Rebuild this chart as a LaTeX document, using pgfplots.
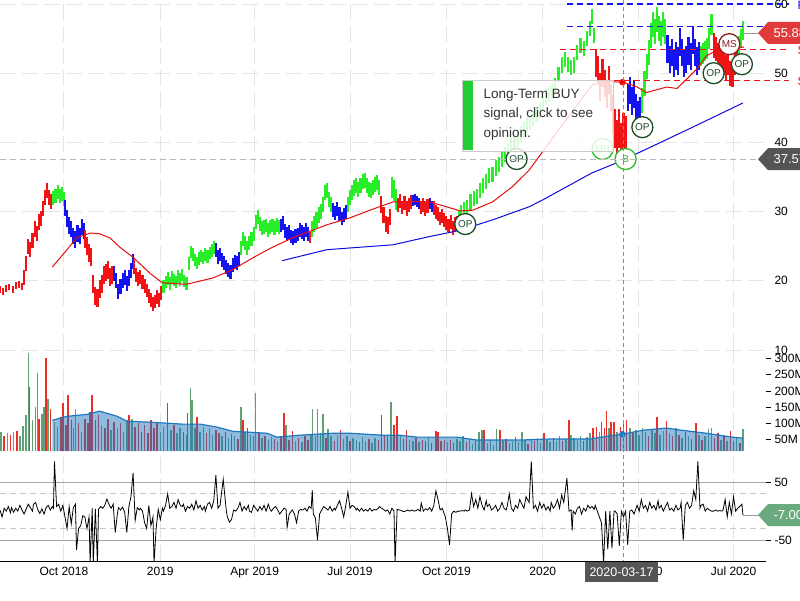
\documentclass[border=0pt]{standalone}
\usepackage{fontspec}
\setmainfont{Liberation Sans}
\usepackage{pgfplots}
\pgfplotsset{compat=1.18}

\definecolor{pgreen}{RGB}{40,238,40}
\definecolor{pblue}{RGB}{20,20,240}
\definecolor{pred}{RGB}{240,20,20}
\definecolor{mared}{RGB}{232,12,12}
\definecolor{mablue}{RGB}{12,12,222}
\definecolor{gridc}{RGB}{228,228,228}
\definecolor{vgreen}{RGB}{95,160,118}
\definecolor{vred}{RGB}{236,45,40}
\definecolor{vma}{RGB}{31,119,190}
\definecolor{opgreen}{RGB}{28,78,38}
\definecolor{msred}{RGB}{140,28,28}
\definecolor{bgreen}{RGB}{45,190,45}
\definecolor{tagred}{RGB}{224,58,58}
\definecolor{taggray}{RGB}{85,85,85}
\definecolor{taggreen}{RGB}{106,170,126}
\definecolor{tipgreen}{RGB}{34,204,51}

\pgfplotsset{
  panel/.style={
    scale only axis, anchor=south west, at={(0pt,0pt)}, width=766pt,
    xmin=-61, xmax=670,
    xtick={0,92,182,273,365,457,548,639},
    xticklabels={},
    xmajorgrids,
    axis line style={draw=none},
    major grid style={draw=gridc, line width=0.9pt, dash pattern=on 16pt off 6pt},
    yticklabel pos=right, ytick pos=right,
    tick align=outside, major tick length=5pt,
    tick style={draw=black, line width=0.8pt},
    xtick style={draw=none},
    /pgf/number format/assume math mode=true,
    ticklabel style={font=\fontsize{12}{14}\selectfont, text=black},
    yticklabel style={anchor=west},
  },
  pb/.style 2 args={only marks, mark=*, mark size=0pt,
    mark options={draw=none, fill=none}, forget plot,
    error bars/.cd, y dir=both, y fixed=#2, error mark=none,
    error bar style={draw=#1, line width=2.1pt}},
  vb/.style={ycomb, draw=#1, line width=1.5pt, mark=none},
  op/.style={only marks, mark=*, mark size=10.5pt,
    mark options={fill=white, draw=#1, line width=1.3pt}},
}

\begin{document}
\begin{tikzpicture}[x=1pt,y=1pt]
\useasboundingbox (0,0) rectangle (800,600);
\clip (0,0) rectangle (800,600);

% ---------------- price panel
\begin{scope}[yshift=250pt]
\begin{axis}[panel, height=350pt,
  ymin=10, ymax=60.58, ytick={10,20,...,60}, ymajorgrids,
  ytick style={draw=none}, clip=false, clip marker paths=true]

\addplot[pb={pred}{0.5}] coordinates {(-61,18.7)(-58,18.5)(-55,18.9)(-52,19.1)(-49,18.8)(-46,19.3)(-43,19.5)(-40,19.2)};
\addplot[pb={pred}{1.1}] coordinates {(-38,20.5)(-36,22.5)(-34,25.0)(-32,24.5)(-30,25.8)(-28,27.5)(-26,26.8)(-24,28.5)(-22,29.0)(-20,30.5)(-18,32.0)(-16,33.0)(-14,32.0)(-12,31.5)};
\addplot[pb={pgreen}{1.0}] coordinates {(-10,32.0)(-8,32.3)(-6,32.8)(-4,32.2)(-2,32.6)(0,31.8)};
\addplot[pb={pblue}{1.2}] coordinates {(1,30.5)(3,29.0)(5,28.0)(7,27.5)(9,26.5)(11,26.0)(13,26.8)(15,26.5)(17,27.8)(19,27.2)};
\addplot[pb={pred}{1.3}] coordinates {(20,26.0)(22,25.0)(24,24.0)(26,23.5)(28,19.5)(30,17.8)(32,17.5)(34,18.8)(36,19.6)(38,20.8)(40,21.2)(42,21.5)(44,20.5)(46,20.8)};
\addplot[pb={pblue}{1.1}] coordinates {(48,21.0)(50,20.0)(52,18.5)(54,19.2)(56,20.0)(58,20.5)(60,19.6)(62,20.4)(64,21.5)(66,22.8)};
\addplot[pb={pred}{1.0}] coordinates {(67,22.0)(69,20.8)(71,20.2)(73,20.5)(75,19.8)(77,19.2)(79,18.6)(81,17.8)(83,17.2)(85,16.6)(87,17.0)(89,17.6)(91,17.2)(93,18.2)};
\addplot[pb={pgreen}{0.9}] coordinates {(95,19.2)(97,19.8)(99,20.3)(101,19.6)(103,20.5)(105,20.1)(107,19.8)(109,20.6)(111,20.2)(113,20.8)(115,20.0)(117,19.6)(119,22.5)(121,24.2)(123,23.8)(125,23.0)(127,22.6)(129,23.2)(131,23.6)(133,23.3)(135,23.8)(137,23.5)(139,24.0)(141,24.4)(143,24.8)};
\addplot[pb={pblue}{1.0}] coordinates {(145,24.5)(147,23.5)(149,23.8)(151,23.0)(153,22.6)(155,22.0)(157,21.6)(159,21.3)(161,22.3)(163,22.8)(165,22.6)(167,23.2)};
\addplot[pb={pgreen}{1.0}] coordinates {(169,24.8)(171,26.0)(173,25.5)(175,24.8)(177,25.5)(179,26.0)(181,26.8)(183,28.5)(185,29.2)(187,28.2)(189,27.6)(191,27.8)(193,28.0)(195,27.4)(197,27.8)(199,28.0)(201,27.6)(203,28.1)(205,27.8)};
\addplot[pb={pblue}{1.0}] coordinates {(207,28.0)(209,28.3)(211,27.2)(213,26.8)(215,27.0)(217,26.4)(219,26.2)(221,26.5)(223,26.7)(225,27.3)(227,27.0)(229,26.8)(231,27.4)(233,26.8)};
\addplot[pb={pred}{0.8}] coordinates {(235,26.3)};
\addplot[pb={pgreen}{1.1}] coordinates {(237,27.5)(239,28.2)(241,28.8)(243,29.5)(245,30.0)(247,31.0)(249,32.8)(251,33.0)(253,31.8)(255,31.0)};
\addplot[pb={pblue}{1.0}] coordinates {(257,30.2)(259,29.8)(261,30.4)(263,29.6)(265,29.0)(267,29.5)(269,30.0)};
\addplot[pb={pgreen}{1.1}] coordinates {(271,31.0)(273,32.0)(275,32.8)(277,33.4)(279,33.8)(281,33.2)(283,33.8)(285,34.3)(287,34.5)(289,33.8)(291,33.2)(293,33.0)(295,33.5)(297,33.9)(299,34.2)(301,33.5)};
\addplot[pb={pred}{1.2}] coordinates {(303,31.0)(305,29.5)(307,28.2)(309,28.0)(311,29.2)};
\addplot[pb={pgreen}{1.5}] coordinates {(313,33.5)(315,33.0)(317,31.8)};
\addplot[pb={pred}{1.0}] coordinates {(319,31.0)(321,31.5)(323,30.6)(325,31.2)(327,30.4)(329,31.0)(331,31.4)};
\addplot[pb={pblue}{0.8}] coordinates {(333,31.6)(335,31.8)(337,31.5)(339,31.2)};
\addplot[pb={pred}{1.0}] coordinates {(341,30.6)(343,31.0)(345,30.4)(347,30.8)};
\addplot[pb={pblue}{0.8}] coordinates {(349,31.2)(351,30.8)};
\addplot[pb={pred}{1.0}] coordinates {(353,30.5)(355,30.0)(357,29.6)(359,29.0)(361,29.4)(363,28.8)(365,28.3)(367,28.0)(369,28.5)(371,27.6)(373,28.2)(375,28.4)};
\addplot[pb={pgreen}{1.1}] coordinates {(377,29.0)(379,29.8)(382,30.3)(385,30.6)(388,31.4)(391,31.9)(394,32.2)(397,33.0)(400,33.8)(403,34.3)(406,35.2)(409,35.4)(412,36.3)(415,36.8)(418,37.5)(421,38.2)(424,38.6)(427,39.6)(430,40.0)(433,40.4)(436,41.2)(439,41.8)(442,42.6)(445,42.9)(448,43.4)(451,44.0)(454,44.6)(457,45.8)(460,46.8)(463,47.0)(466,47.3)(469,48.2)(472,49.8)(475,51.2)(478,52.0)(481,51.3)(484,50.8)(487,51.2)(490,53.0)(493,54.0)(496,53.6)(499,55.0)(502,56.5)(504,58.2)(506,55.5)};
\addplot[pb={pred}{2.0}] coordinates {(508,51.5)(510,50.5)(512,48.0)(514,50.0)(516,48.5)(518,47.0)(520,49.0)(522,46.5)};
\addplot[pb={pred}{2.8}] coordinates {(524,44.0)(526,42.0)(528,40.5)(530,42.0)(532,40.0)(534,41.5)(536,41.0)};
\addplot[pb={pblue}{2.0}] coordinates {(538,46.5)(540,47.5)(542,46.0)(544,47.0)(546,45.0)(548,44.0)(550,44.5)};
\addplot[pb={pgreen}{1.8}] coordinates {(552,46.0)(554,48.5)(556,51.0)(558,53.0)(560,55.5)(562,57.0)(564,56.0)(566,57.8)(568,56.5)(570,55.8)(572,57.0)(574,56.0)};
\addplot[pb={pblue}{2.0}] coordinates {(576,53.5)(578,52.0)(580,53.0)(582,51.5)(584,52.5)(586,51.8)(588,54.5)(590,53.0)(592,51.5)(594,52.0)(596,53.2)(598,52.4)(600,54.8)(602,53.0)(604,51.8)(606,52.5)};
\addplot[pb={pgreen}{1.5}] coordinates {(608,52.5)(610,52.8)(612,53.2)(614,53.6)(616,55.0)(618,57.0)};
\addplot[pb={pred}{1.8}] coordinates {(620,54.0)(622,53.5)(624,52.5)(626,52.0)(628,51.8)(630,51.5)(632,50.8)(634,51.5)(636,50.0)(638,49.8)(640,51.5)(642,52.0)};
\addplot[pb={pgreen}{1.4}] coordinates {(644,54.0)(646,55.0)(648,56.2)};

% moving averages
\addplot[mared, line width=1pt, mark=none] coordinates {(-11,22.0)(3,24.5)(12,26.2)(25,26.9)(34,26.8)(44,26.2)(53,24.9)(66,23.4)(82,21.1)(94,19.7)(117,19.5)(142,20.4)(161,21.6)(180,23.3)(197,24.7)(218,26.2)(251,28.1)(273,29.1)(292,30.2)(314,31.4)(330,31.5)(349,31.4)(365,30.7)(378,30.1)(390,30.2)(409,31.4)(428,33.6)(444,36.0)(473,42.0)(504,48.3)(520,48.8)(533,48.7)(546,48.1)(556,47.2)(575,48.0)(585,47.8)(594,49.1)(604,50.6)(613,52.5)(623,53.3)(642,53.6)(649,53.8)};
\addplot[mablue, line width=1pt, mark=none] coordinates {(208,22.9)(251,24.5)(314,25.2)(346,26.3)(378,27.3)(409,28.8)(444,30.7)(457,31.7)(504,35.6)(530,37.2)(568,39.9)(600,42.2)(648,45.7)};
\addplot[only marks, mark=*, mark size=3pt, color=mared] coordinates {(533,48.7)};

% levels
\draw[pblue, line width=1.2pt, dash pattern=on 6pt off 4pt] (axis cs:480,60) -- (axis cs:692,60);
\draw[pblue, line width=1.2pt, dash pattern=on 6pt off 4pt] (axis cs:480,56.7) -- (axis cs:692,56.7);
\draw[pred, line width=1.2pt, dash pattern=on 6pt off 4pt] (axis cs:473,53.4) -- (axis cs:692,53.4);
\draw[pred, line width=1.2pt, dash pattern=on 6pt off 4pt] (axis cs:506,48.9) -- (axis cs:692,48.9);

% signal circles
\addplot[op=opgreen] coordinates {(383,28.2)(432,37.6)(552,42.2)(620,50.0)(647,51.3)};
\addplot[op=bgreen] coordinates {(514,39.05)(536,37.6)};
\addplot[op=msred] coordinates {(635,54.2)};
\begin{scope}[font=\fontsize{10}{10}\selectfont]
\node[text=opgreen] at (axis cs:383,28.2) {OP};
\node[text=opgreen] at (axis cs:432,37.6) {OP};
\node[text=opgreen] at (axis cs:552,42.2) {OP};
\node[text=opgreen] at (axis cs:620,50.0) {OP};
\node[text=opgreen] at (axis cs:647,51.3) {OP};
\node[text=bgreen] at (axis cs:514,39.05) {MB};
\node[text=bgreen] at (axis cs:536,37.6) {B};
\node[text=msred] at (axis cs:635,54.2) {MS};
\end{scope}
\end{axis}
\end{scope}

% ---------------- volume panel
\begin{scope}[yshift=149pt]
\begin{axis}[panel, height=101pt,
  ymin=15.4, ymax=326, ytick={50,100,...,300},
  yticklabels={50M,100M,150M,200M,250M,300M}]
\addplot[vb=vgreen] coordinates {(-60,73)(-54,70)(-48,75)(-42,63)(-39,93)(-36,125)(-34,317)(-30,110)(-27,152)(-25,254)(-21,129)(-19,152)(-15,175)(-9,105)(-6,90)(9,85)(11,144)(17,75)(36,95)(45,80)(51,85)(57,75)(60,110)(65,115)(92,75)(95,90)(102,80)(108,70)(111,85)(117,65)(121,208)(122,171)(125,85)(130,75)(133,90)(139,85)(142,65)(151,60)(157,55)(163,60)(169,150)(173,75)(178,65)(181,60)(183,193)(189,55)(195,50)(198,57)(204,45)(212,94)(221,45)(227,43)(236,65)(237,144)(240,60)(242,144)(245,70)(247,129)(252,83)(255,60)(261,65)(267,53)(270,60)(276,55)(279,50)(285,57)(288,47)(294,40)(297,55)(312,165)(321,60)(330,50)(333,45)(339,43)(348,57)(366,43)(375,53)(378,45)(381,60)(387,50)(390,37)(396,73)(399,79)(404,40)(407,50)(410,35)(413,82)(419,45)(425,40)(428,47)(434,43)(437,75)(440,50)(446,53)(452,55)(455,40)(461,50)(464,43)(470,45)(473,60)(479,53)(484,65)(487,55)(490,50)(493,63)(499,57)(502,70)(511,75)(520,86)(528,75)(540,85)(546,80)(549,65)(552,87)(555,75)(561,83)(564,70)(569,65)(572,77)(578,70)(584,85)(590,55)(596,60)(606,65)(612,60)(615,83)(618,87)(627,50)(633,45)(642,55)(648,83)};
\addplot[vb=vred] coordinates {(-57,60)(-51,65)(-45,77)(-33,211)(-24,115)(-17,300)(-13,145)(-3,120)(-1,162)(2,95)(4,187)(7,110)(14,100)(20,115)(23,103)(25,135)(27,187)(30,110)(33,125)(39,85)(42,115)(48,105)(54,100)(62,125)(68,90)(71,100)(74,75)(77,95)(80,70)(83,110)(86,85)(89,100)(99,162)(105,95)(114,75)(118,132)(127,119)(136,70)(145,80)(148,70)(154,75)(160,67)(166,53)(171,110)(175,86)(186,70)(192,63)(201,53)(207,60)(210,132)(215,50)(218,76)(224,55)(230,60)(233,50)(250,55)(258,45)(264,79)(273,45)(282,43)(291,53)(300,50)(303,125)(306,65)(309,60)(315,95)(318,122)(324,53)(327,79)(336,55)(342,50)(345,45)(351,40)(355,76)(357,73)(360,45)(363,50)(369,48)(372,40)(384,43)(393,45)(401,79)(416,79)(422,53)(431,57)(443,37)(449,45)(458,70)(467,55)(476,47)(482,110)(496,45)(505,86)(508,89)(513,104)(516,85)(518,138)(522,104)(525,104)(531,90)(534,104)(537,110)(543,70)(558,60)(566,119)(575,107)(581,60)(587,65)(593,73)(599,53)(603,101)(609,50)(621,55)(624,70)(630,63)(636,77)(639,45)(645,40)};
\addplot[draw=none, fill=vma, fill opacity=0.5, mark=none] coordinates {(-11,110)(3,122)(22,128)(34,138)(51,122)(60,107)(82,104)(98,101)(113,98)(130,98)(146,89)(161,76)(194,70)(203,58)(225,64)(257,70)(273,70)(304,64)(320,64)(337,58)(375,58)(394,49)(435,49)(461,52)(502,52)(518,61)(533,67)(552,79)(575,86)(590,79)(613,70)(638,58)(648,55)} \closedcycle;
\addplot[vma, line width=1.2pt, mark=none] coordinates {(-11,110)(3,122)(22,128)(34,138)(51,122)(60,107)(82,104)(98,101)(113,98)(130,98)(146,89)(161,76)(194,70)(203,58)(225,64)(257,70)(273,70)(304,64)(320,64)(337,58)(375,58)(394,49)(435,49)(461,52)(502,52)(518,61)(533,67)(552,79)(575,86)(590,79)(613,70)(638,58)(648,55)};
\addplot[only marks, mark=*, mark size=3pt, color=vma] coordinates {(533,67)};
\end{axis}
\end{scope}

% ---------------- oscillator panel
\begin{scope}[yshift=39pt]
\begin{axis}[panel, height=109pt,
  ymin=-86, ymax=102, ytick={-50,50},
  xticklabels={Oct 2018,2019,Apr 2019,Jul 2019,Oct 2019,2020,Apr 2020,Jul 2020},
  xticklabel style={yshift=2.5pt}]
\draw[black!35, line width=1.2pt] (axis cs:-61,50) -- (axis cs:670,50);
\draw[black!35, line width=1.2pt] (axis cs:-61,-50) -- (axis cs:670,-50);
\draw[black!22, line width=1pt, dash pattern=on 6pt off 4pt] (axis cs:-61,30) -- (axis cs:670,30);
\draw[black!22, line width=1pt, dash pattern=on 6pt off 4pt] (axis cs:-61,-30) -- (axis cs:670,-30);
\addplot[black, line width=0.8pt, mark=none] coordinates {
(-61,2)(-59,-10)(-57,5)(-55,0)(-53,8)(-51,-3)(-50,6)(-48,-2)(-46,5)(-44,0)(-42,10)(-40,2)(-38,-5)(-36,4)(-34,12)(-32,6)(-30,0)(-29,12)(-27,15)(-25,3)(-23,-4)(-21,4)(-19,-5)(-17,6)(-15,10)(-13,2)(-11,8)(-10,5)(-9,86)(-7,8)(-5,12)(-3,0)(-1,10)(1,-10)(3,-30)(5,8)(7,-22)(9,6)(11,12)(12,-67)(14,-30)(16,-25)(18,-8)(20,-10)(22,-30)(24,-10)(25,-90)(27,5)(28,-90)(30,4)(32,-90)(33,3)(35,8)(37,5)(39,10)(41,21)(43,12)(45,5)(47,12)(49,-37)(51,-5)(52,6)(54,2)(56,7)(58,-2)(60,-37)(62,8)(64,25)(66,66)(68,-16)(70,6)(72,2)(73,5)(75,0)(77,-20)(79,-30)(81,10)(83,-25)(85,-10)(86,-90)(88,-30)(90,3)(92,-15)(94,5)(95,0)(97,10)(99,30)(101,5)(103,8)(105,15)(107,5)(109,20)(111,10)(113,8)(114,12)(116,0)(118,8)(120,5)(122,12)(124,2)(126,18)(128,5)(130,10)(132,2)(134,8)(135,0)(137,12)(139,15)(141,5)(143,18)(145,62)(147,5)(149,10)(152,55)(155,0)(156,-10)(158,-19)(160,-14)(162,2)(164,0)(166,5)(168,15)(170,0)(172,8)(174,2)(176,10)(177,0)(179,-2)(181,10)(183,5)(185,0)(187,8)(189,2)(191,10)(193,0)(195,12)(197,2)(198,0)(200,5)(202,8)(204,2)(206,-5)(208,0)(210,5)(212,3)(213,-28)(215,-5)(217,0)(218,2)(220,-5)(222,-20)(224,0)(226,3)(228,2)(230,5)(232,0)(234,8)(236,5)(237,36)(238,-5)(240,-12)(242,-50)(244,-5)(246,2)(248,8)(250,5)(252,2)(254,8)(256,0)(258,5)(259,2)(261,10)(263,18)(265,5)(267,-10)(269,10)(271,33)(273,5)(275,10)(277,8)(279,2)(280,5)(282,0)(284,5)(286,0)(288,3)(290,0)(292,5)(294,0)(296,3)(298,2)(300,5)(301,8)(303,5)(305,3)(307,0)(309,2)(311,-5)(313,5)(315,0)(316,-90)(318,3)(320,2)(322,1)(324,-1)(326,0)(328,2)(330,0)(332,2)(334,0)(336,1)(338,3)(340,0)(341,14)(343,0)(345,4)(347,2)(349,6)(351,0)(353,10)(355,35)(357,20)(359,2)(361,5)(362,0)(364,-10)(366,-30)(368,-58)(370,-5)(372,0)(374,-2)(376,0)(378,0)(380,1)(382,0)(383,2)(385,0)(387,2)(389,30)(391,8)(393,20)(395,5)(397,25)(399,10)(401,2)(403,18)(404,8)(406,12)(408,2)(410,5)(412,10)(414,0)(416,5)(418,15)(420,5)(422,2)(423,8)(425,30)(427,5)(429,0)(431,10)(433,5)(435,20)(437,12)(439,5)(441,25)(443,18)(444,15)(446,86)(448,5)(450,10)(452,0)(454,15)(456,5)(458,12)(460,2)(462,8)(464,0)(465,15)(467,5)(469,10)(471,20)(473,5)(475,28)(477,15)(480,57)(482,0)(484,2)(485,-33)(486,0)(488,-5)(490,5)(492,8)(494,-5)(496,5)(498,0)(500,10)(502,5)(504,8)(506,3)(507,10)(509,0)(511,-10)(513,-20)(515,-90)(517,0)(519,-66)(521,0)(523,-64)(525,0)(526,0)(528,-5)(530,-60)(532,0)(534,-10)(536,0)(538,-58)(540,0)(542,2)(544,-5)(546,5)(547,10)(549,0)(551,20)(553,5)(555,10)(557,0)(559,15)(561,5)(563,10)(565,2)(567,18)(568,5)(570,10)(572,0)(574,8)(576,15)(578,2)(580,5)(582,0)(584,10)(586,2)(588,5)(589,15)(591,-50)(593,10)(595,15)(597,5)(599,10)(601,35)(603,20)(605,86)(607,5)(608,10)(610,12)(612,0)(614,5)(616,2)(618,0)(620,0)(622,2)(624,0)(626,1)(628,0)(629,2)(631,20)(633,-10)(635,15)(637,-5)(639,25)(641,0)(643,5)(645,8)(647,12)(648,-7)};
\draw[black, line width=1pt] (rel axis cs:0,0) -- (rel axis cs:1,0);
\end{axis}
\end{scope}

% ---------------- overlays
\draw[black!28, line width=1.2pt, dash pattern=on 6pt off 4pt] (0,440.8) -- (758,440.8);
\draw[black!45, line width=0.9pt, dash pattern=on 4pt off 3pt] (623,600) -- (623,39);

\fill[white, opacity=0.82] (462,449) rectangle (613,520);
\draw[black!20] (462,449) rectangle (613,520);
\fill[tipgreen] (463,450) rectangle (473,519);
\begin{scope}[font=\fontsize{13.5}{16}\selectfont]
\node[anchor=west, text=black!80] at (480,505) {Long-Term BUY};
\node[anchor=west, text=black!80] at (480,486) {signal, click to see};
\node[anchor=west, text=black!80] at (480,466) {opinion.};
\end{scope}

\draw[black!40, line width=0.8pt] (743,567) -- (758,567);
\fill[tagred] (758,567) -- (768,578) -- (800,578) -- (800,556) -- (768,556) -- cycle;
\fill[taggray] (758,440.8) -- (768,451.8) -- (800,451.8) -- (800,429.8) -- (768,429.8) -- cycle;
\draw[black!40, line width=0.8pt] (743,85) -- (758,85);
\fill[taggreen] (758,85) -- (768,96) -- (800,96) -- (800,74) -- (768,74) -- cycle;
\begin{scope}[font=\fontsize{13}{15}\selectfont, text=white]
\node[anchor=west] at (770,567) {55.88};
\node[anchor=west] at (770,440.8) {37.57};
\node[anchor=west] at (770,85) {-7.00};
\end{scope}
\node[anchor=west, text=pblue, font=\fontsize{12}{14}\selectfont] at (794,595) {R};
\node[anchor=west, text=pred, font=\fontsize{12}{14}\selectfont] at (794,550) {S};
\node[anchor=west, text=pred, font=\fontsize{12}{14}\selectfont] at (794,519) {S};

\fill[taggray] (585,18) rectangle (658,38);
\node[text=white, font=\fontsize{12.5}{15}\selectfont] at (621.5,28) {2020-03-17};
\end{tikzpicture}
\end{document}
